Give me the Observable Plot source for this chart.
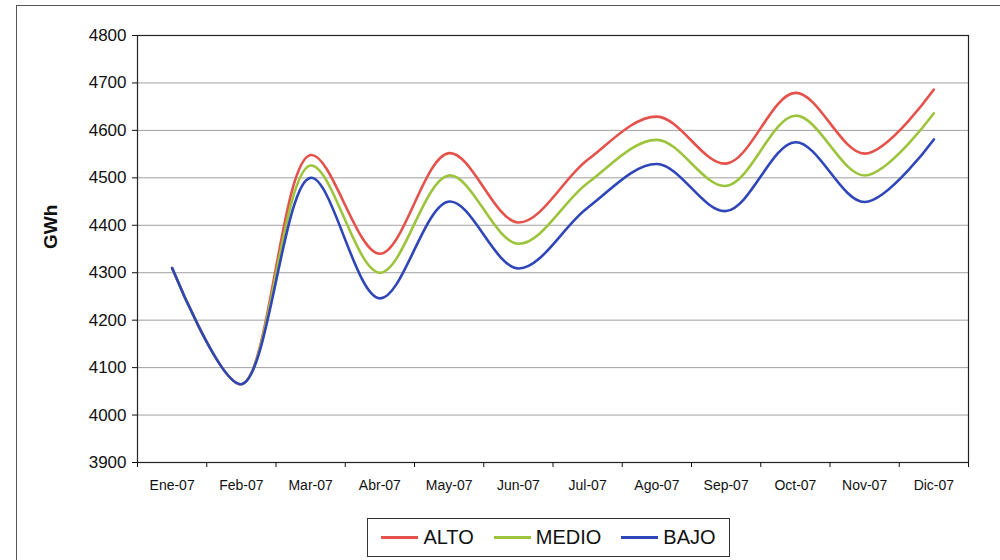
<!DOCTYPE html>
<html>
<head>
<meta charset="utf-8">
<script src="https://cdn.jsdelivr.net/npm/d3@7"></script>
<script src="https://cdn.jsdelivr.net/npm/@observablehq/plot@0.6"></script>
<style>
  html, body { margin: 0; padding: 0; background: #fff; }
  #wrap { position: relative; width: 1000px; height: 560px; overflow: hidden; font-family: "Liberation Sans", Arial, sans-serif; }
  #frame { position: absolute; left: 16px; top: 5px; width: 990px; height: 560px; border-left: 1px solid #555; border-top: 1.5px solid #555; }
  #chart { position: absolute; left: 0; top: 0; }
  #legend { position: absolute; left: 367px; top: 518px; width: 363px; height: 39px; border: 1px solid #333; box-sizing: border-box; display: flex; align-items: center; justify-content: center; gap: 20px; font-size: 20px; color: #111; }
  #legend .item { display: flex; align-items: center; gap: 5px; }
  #legend .sw { display: inline-block; width: 37px; height: 3px; }
</style>
</head>
<body>
<div id="wrap">
  <div id="frame"></div>
  <div id="chart"></div>
  <div id="legend"></div>
</div>
<script>
const months = ["Ene-07","Feb-07","Mar-07","Abr-07","May-07","Jun-07","Jul-07","Ago-07","Sep-07","Oct-07","Nov-07","Dic-07"];
const alto  = [4310, 4065, 4548, 4340, 4552, 4406, 4538, 4629, 4530, 4679, 4551, 4686];
const medio = [4310, 4065, 4526, 4300, 4505, 4361, 4489, 4580, 4483, 4631, 4505, 4636];
const bajo  = [4310, 4065, 4500, 4246, 4450, 4309, 4437, 4529, 4430, 4575, 4449, 4581];
const seriesNames = ["ALTO", "MEDIO", "BAJO"];
const seriesColors = ["#e5514b", "#9cc43c", "#2f46b8"];
const yTicks = [3900, 4000, 4100, 4200, 4300, 4400, 4500, 4600, 4700, 4800];

const rows = [];
[alto, medio, bajo].forEach((vals, s) => {
  vals.forEach((v, i) => rows.push({serie: seriesNames[s], i: i + 0.5, month: months[i], value: v}));
});

const centers = months.map((m, i) => i + 0.5);
const bounds = d3.range(months.length + 1);

const chart = Plot.plot({
  width: 1000,
  height: 505,
  marginLeft: 137,
  marginRight: 32,
  marginTop: 35,
  marginBottom: 43,
  style: {fontFamily: "'Liberation Sans', Arial, sans-serif", background: "transparent", color: "#111"},
  x: {type: "linear", domain: [0, 12]},
  y: {domain: [3900, 4800]},
  color: {domain: seriesNames, range: seriesColors},
  marks: [
    Plot.gridY(yTicks, {stroke: "#8a8a8a", strokeOpacity: 0.8, strokeWidth: 1}),
    Plot.frame({stroke: "#222", strokeWidth: 1.2}),
    Plot.axisY(yTicks, {tickSize: 5, tickPadding: 6, label: null, tickFormat: d => String(d)}),
    Plot.axisX(bounds, {tickSize: 5, tickFormat: () => "", label: null}),
    Plot.axisX(centers, {tickSize: 0, tickPadding: 18, label: null, tickFormat: d => months[Math.floor(d)]}),
    Plot.line(rows, {x: "i", y: "value", z: "serie", stroke: "serie", strokeWidth: 2.6, curve: "catmull-rom"}),
    Plot.text(["GWh"], {frameAnchor: "left", dx: -87, rotate: -90, fontWeight: "bold", fontSize: 19, fill: "#111"})
  ]
});
document.getElementById("chart").appendChild(chart);

const yLabels = yTicks.map(String);
d3.select(chart).selectAll("text").each(function() {
  const t = this.textContent;
  if (months.includes(t)) {
    this.setAttribute("font-size", "14");
    this.style.fontSize = "14px";
  } else if (yLabels.includes(t)) {
    this.setAttribute("font-size", "17");
    this.style.fontSize = "17px";
  }
});

const legend = document.getElementById("legend");
seriesNames.forEach((n, k) => {
  const it = document.createElement("div");
  it.className = "item";
  const sw = document.createElement("span");
  sw.className = "sw";
  sw.style.background = seriesColors[k];
  const t = document.createElement("span");
  t.textContent = n;
  it.appendChild(sw);
  it.appendChild(t);
  legend.appendChild(it);
});
</script>
</body>
</html>
